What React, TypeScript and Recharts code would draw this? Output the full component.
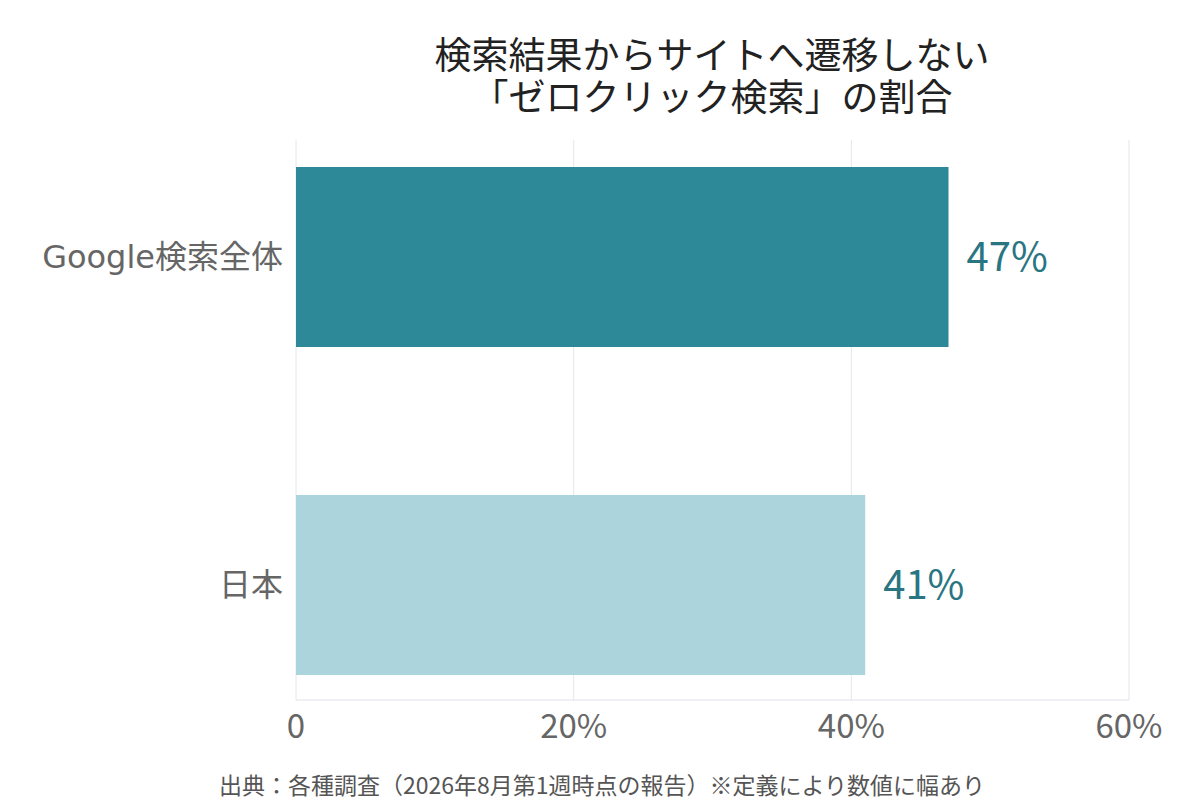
import { BarChart, Bar, XAxis, YAxis, CartesianGrid, Cell, LabelList } from 'recharts'

const categories = ['Google検索全体', '日本']
const shares = [47, 41]
const barColors = ['#2d8898', '#acd4dd']
const xTicks = [0, 20, 40, 60]
const titleLines = ['検索結果からサイトへ遷移しない', '「ゼロクリック検索」の割合']

const FONT = '"Noto Sans CJK JP", "Noto Sans", sans-serif'
const LATIN_FIRST = '"DejaVu Sans", "Noto Sans CJK JP", sans-serif'

const data = categories.map((name, i) => ({ name, value: shares[i] }))

// category label, latin part drawn in a wider face like the original
const CategoryTick = (props: any) => {
  const { x, y, payload } = props
  return (
    <text
      x={x}
      y={y}
      dy="0.35em"
      textAnchor="end"
      fill="#666"
      fontFamily={LATIN_FIRST}
      style={{ fontSize: 32, fontFamily: LATIN_FIRST }}
    >
      {payload.value}
    </text>
  )
}

export default function App() {
  return (
    <div style={{ position: 'absolute', left: 0, top: 0, width: 1200, height: 800, background: '#fff', fontFamily: FONT }}>
      {titleLines.map((line, i) => (
        <div
          key={i}
          style={{
            position: 'absolute', left: 224, top: 34 + i * 42, width: 976,
            textAlign: 'center', fontSize: 37, lineHeight: '38px', color: '#222',
          }}
        >
          {line}
        </div>
      ))}
      <BarChart
        width={1200}
        height={800}
        data={data}
        layout="vertical"
        margin={{ top: 140, right: 71, bottom: 50, left: 0 }}
      >
        <CartesianGrid horizontal={false} stroke="#e6e6ee" />
        <XAxis
          type="number"
          domain={[0, 60]}
          ticks={xTicks}
          tickFormatter={(v: number) => (v === 0 ? '0' : `${v}%`)}
          axisLine={{ stroke: '#e0e0ea' }}
          tickLine={false}
          tickSize={0}
          tickMargin={15}
          height={50}
          tick={{ fontSize: 33, fill: '#666', fontFamily: FONT }}
        />
        <YAxis
          type="category"
          dataKey="name"
          width={296}
          axisLine={false}
          tickLine={false}
          tickSize={0}
          tickMargin={13}
          padding={{ top: -47, bottom: -49 }}
          tick={<CategoryTick />}
        />
        <Bar dataKey="value" barSize={180} isAnimationActive={false}>
          {data.map((_, i) => (
            <Cell key={i} fill={barColors[i]} />
          ))}
          <LabelList
            dataKey="value"
            position="right"
            offset={18}
            formatter={(v: number) => `${v}%`}
            style={{ fontSize: 40, fill: '#2a7582', fontFamily: FONT }}
          />
        </Bar>
      </BarChart>
      <div
        style={{
          position: 'absolute', left: 2, top: 771, width: 1200,
          textAlign: 'center', fontSize: 23, lineHeight: '27px', color: '#555',
        }}
      >
        出典：各種調査（2026年8月第1週時点の報告）※定義により数値に幅あり
      </div>
    </div>
  )
}
